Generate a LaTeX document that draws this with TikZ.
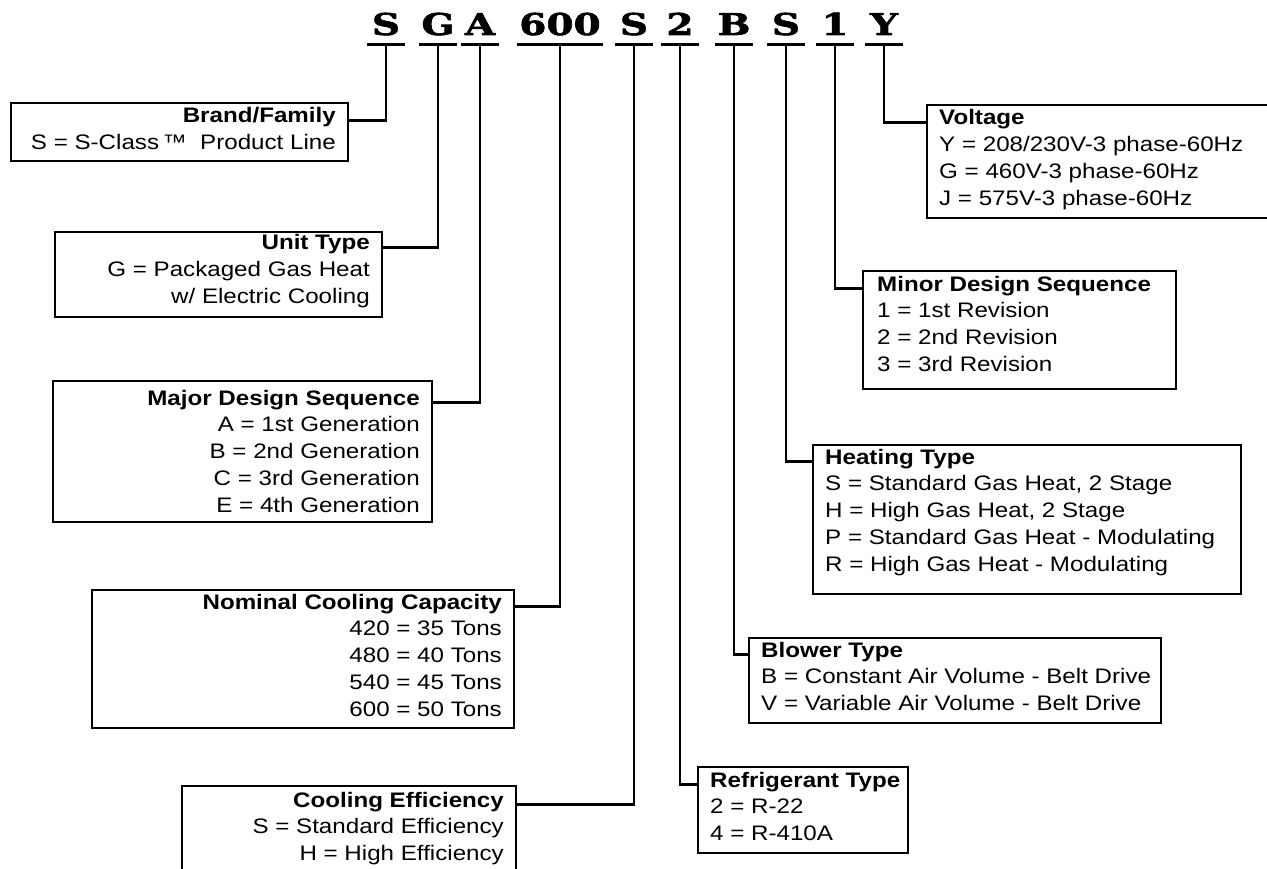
\documentclass[tikz,border=0pt]{standalone}
\usepackage{fontspec}
\setmainfont{Liberation Sans}[FakeStretch=1.15]
\newfontfamily\codefont{DejaVu Serif}[FakeStretch=1.3,FakeBold=2]
\usetikzlibrary{positioning,calc}

\tikzset{
  keybox/.style={draw,line width=2pt,inner sep=0pt,anchor=north west},
  keyhead/.style={inner sep=0pt,font=\fontsize{21}{27}\selectfont\bfseries},
  keybody/.style={inner sep=0pt,font=\fontsize{21}{27}\selectfont},
  codechar/.style={inner sep=0pt,anchor=base,minimum width=38pt,text depth=9pt,
    font=\fontsize{30}{30}\codefont\bfseries},
  uline/.style={line width=3pt},
  conn/.style={line width=2.4pt},
}

\begin{document}
\begin{tikzpicture}[x=1pt,y=-1pt]
  \path[use as bounding box,clip] (0,0) rectangle (1267,869);

  % the model code, one node per field
  \node[codechar] (cS)   at (386,35) {S};
  \node[codechar] (cG)   at (438,35) {G};
  \node[codechar] (cA)   at (480,35) {A};
  \node[codechar,minimum width=86pt] (cCap) at (560,35) {600};
  \node[codechar] (cEff) at (634,35) {S};
  \node[codechar] (cRef) at (680,35) {2};
  \node[codechar] (cB)   at (734,35) {B};
  \node[codechar] (cHt)  at (786,35) {S};
  \node[codechar] (cMin) at (835,35) {1};
  \node[codechar] (cY)   at (884,35) {Y};
  \foreach \c in {cS,cG,cA,cCap,cEff,cRef,cB,cHt,cMin,cY}
    \draw[uline] (\c.south west) -- (\c.south east);

  % left column, text set flush right
  \node[keybox,minimum width=337pt,minimum height=58pt] (brand) at (10,102) {};
  \node[keyhead,anchor=base east] (brandhead) at (336,123) {Brand/Family};
  \node[keybody,anchor=north east,align=right] (brandbody) at ([yshift=-11.5pt]brandhead.base east)
    {S = S-Class\,™\ \ Product Line};

  \node[keybox,minimum width=327pt,minimum height=85pt] (unit) at (54,231) {};
  \node[keyhead,anchor=base east] (unithead) at (370,250) {Unit Type};
  \node[keybody,anchor=north east,align=right] (unitbody) at ([yshift=-11.5pt]unithead.base east)
    {G = Packaged Gas Heat\\w/ Electric Cooling};

  \node[keybox,minimum width=379pt,minimum height=141pt] (major) at (52,380) {};
  \node[keyhead,anchor=base east] (majorhead) at (420,405) {Major Design Sequence};
  \node[keybody,anchor=north east,align=right] (majorbody) at ([yshift=-11.5pt]majorhead.base east)
    {A = 1st Generation\\B = 2nd Generation\\C = 3rd Generation\\E = 4th Generation};

  \node[keybox,minimum width=422pt,minimum height=138pt] (nom) at (91,589) {};
  \node[keyhead,anchor=base east] (nomhead) at (502,609) {Nominal Cooling Capacity};
  \node[keybody,anchor=north east,align=right] (nombody) at ([yshift=-11.5pt]nomhead.base east)
    {420 = 35 Tons\\480 = 40 Tons\\540 = 45 Tons\\600 = 50 Tons};

  \node[keybox,minimum width=334pt,minimum height=110pt] (eff) at (181,785) {};
  \node[keyhead,anchor=base east] (effhead) at (504,807) {Cooling Efficiency};
  \node[keybody,anchor=north east,align=right] (effbody) at ([yshift=-11.5pt]effhead.base east)
    {S = Standard Efficiency\\H = High Efficiency};

  % right column, text set flush left
  \node[keybox,minimum width=360pt,minimum height=113pt] (volt) at (926,104) {};
  \node[keyhead,anchor=base west] (volthead) at (939,125) {Voltage};
  \node[keybody,anchor=north west,align=left] (voltbody) at ([yshift=-11.5pt]volthead.base west)
    {Y = 208/230V-3 phase-60Hz\\G = 460V-3 phase-60Hz\\J = 575V-3 phase-60Hz};

  \node[keybox,minimum width=313pt,minimum height=118pt] (minor) at (862,270) {};
  \node[keyhead,anchor=base west] (minorhead) at (877,291) {Minor Design Sequence};
  \node[keybody,anchor=north west,align=left] (minorbody) at ([yshift=-11.5pt]minorhead.base west)
    {1 = 1st Revision\\2 = 2nd Revision\\3 = 3rd Revision};

  \node[keybox,minimum width=428pt,minimum height=149pt] (heat) at (812,444) {};
  \node[keyhead,anchor=base west] (heathead) at (825,464) {Heating Type};
  \node[keybody,anchor=north west,align=left] (heatbody) at ([yshift=-11.5pt]heathead.base west)
    {S = Standard Gas Heat, 2 Stage\\H = High Gas Heat, 2 Stage\\P = Standard Gas Heat - Modulating\\R = High Gas Heat - Modulating};

  \node[keybox,minimum width=412pt,minimum height=85pt] (blow) at (748,637) {};
  \node[keyhead,anchor=base west] (blowhead) at (761,657) {Blower Type};
  \node[keybody,anchor=north west,align=left] (blowbody) at ([yshift=-11.5pt]blowhead.base west)
    {B = Constant Air Volume - Belt Drive\\V = Variable Air Volume - Belt Drive};

  \node[keybox,minimum width=210pt,minimum height=86pt] (refr) at (697,766) {};
  \node[keyhead,anchor=base west] (refrhead) at (710,787) {Refrigerant Type};
  \node[keybody,anchor=north west,align=left] (refrbody) at ([yshift=-11.5pt]refrhead.base west)
    {2 = R-22\\4 = R-410A};

  % leaders from the code to the boxes
  \draw[conn] (brand.east |- brandhead.mid) -| (cS.south);
  \draw[conn] (unit.east |- unithead.mid) -| (cG.south);
  \draw[conn] (major.east |- majorhead.mid) -| (cA.south);
  \draw[conn] (nom.east |- nomhead.mid) -| (cCap.south);
  \draw[conn] (eff.east |- effhead.mid) -| (cEff.south);
  \draw[conn] (cRef.south) |- (refr.west |- refrhead.mid);
  \draw[conn] (cB.south) |- (blow.west |- blowhead.mid);
  \draw[conn] (cHt.south) |- (heat.west |- heathead.mid);
  \draw[conn] (cMin.south) |- (minor.west |- minorhead.mid);
  \draw[conn] (cY.south) |- (volt.west |- volthead.mid);
\end{tikzpicture}
\end{document}
